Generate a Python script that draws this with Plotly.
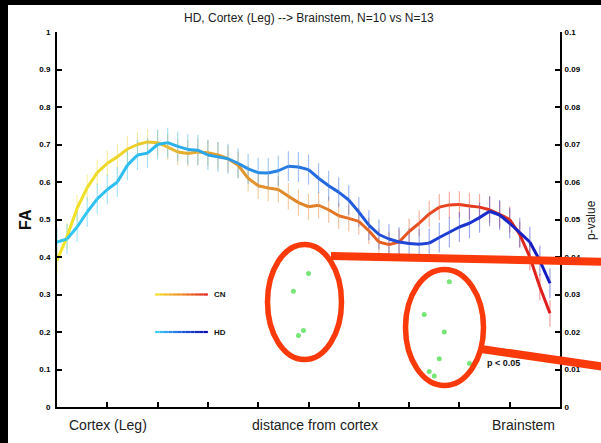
import plotly.graph_objects as go
from plotly.colors import sample_colorscale, hex_to_rgb

# ---------------- data ----------------
title_text = "HD, Cortex (Leg) --> Brainstem, N=10 vs N=13"
group_names = ["CN", "HD"]

position = [0, 2, 4, 6, 8, 10, 12, 14, 16, 18, 20, 22, 24, 26, 28, 30, 32, 34, 36, 38,
            40, 42, 44, 46, 48, 50, 52, 54, 56, 58, 60, 62, 64, 66, 68, 70, 72, 74, 76, 78,
            80, 82, 84, 86, 88, 90, 92, 94, 96, 98]

cn_fa = [0.39, 0.455, 0.53, 0.585, 0.625, 0.65, 0.667, 0.688, 0.70, 0.707,
         0.705, 0.693, 0.68, 0.676, 0.68, 0.678, 0.672, 0.662, 0.645, 0.61,
         0.59, 0.584, 0.58, 0.562, 0.545, 0.534, 0.538, 0.526, 0.51, 0.503,
         0.495, 0.47, 0.44, 0.433, 0.44, 0.468, 0.49, 0.515, 0.533, 0.539,
         0.54, 0.536, 0.533, 0.526, 0.514, 0.50, 0.46, 0.40, 0.32, 0.25]

hd_fa = [0.44, 0.448, 0.48, 0.52, 0.555, 0.58, 0.60, 0.645, 0.672, 0.677,
         0.70, 0.705, 0.695, 0.687, 0.685, 0.672, 0.667, 0.662, 0.65, 0.635,
         0.625, 0.624, 0.63, 0.642, 0.64, 0.633, 0.61, 0.59, 0.573, 0.552,
         0.52, 0.485, 0.46, 0.448, 0.44, 0.436, 0.434, 0.437, 0.452, 0.466,
         0.48, 0.49, 0.505, 0.522, 0.512, 0.49, 0.465, 0.44, 0.39, 0.33]

cn_err = 0.035
hd_err = 0.04

sig_position = [47, 48, 49, 50, 73, 74, 75, 76, 77, 78, 82]
sig_pvalue = [0.0309, 0.0191, 0.0204, 0.0356, 0.0247, 0.0095, 0.0083, 0.0129, 0.0200, 0.0334, 0.0116]

y_ticks = [0, 0.1, 0.2, 0.3, 0.4, 0.5, 0.6, 0.7, 0.8, 0.9, 1]
y_ticklabels = ["0", "0.1", "0.2", "0.3", "0.4", "0.5", "0.6", "0.7", "0.8", "0.9", "1"]
p_ticks = [0, 0.01, 0.02, 0.03, 0.04, 0.05, 0.06, 0.07, 0.08, 0.09, 0.1]
p_ticklabels = ["0", "0.01", "0.02", "0.03", "0.04", "0.05", "0.06", "0.07", "0.08", "0.09", "0.1"]
x_ticks = [10, 20, 30, 40, 50, 60, 70, 80, 90]
x_region_labels = ["Cortex (Leg)", "distance from cortex", "Brainstem"]

# ---------------- styles ----------------
CN_SCALE = [[0, "#f2e526"], [0.15, "#ecd22a"], [0.3, "#e2a232"], [0.5, "#e08428"],
            [0.65, "#e56224"], [0.8, "#e8401e"], [1, "#dc1c1c"]]
HD_SCALE = [[0, "#32c8f2"], [0.2, "#2ab8ee"], [0.35, "#2a9ae6"], [0.5, "#2470e0"],
            [0.7, "#1e48d8"], [1, "#1418c0"]]
CN_LEG_SCALE = [[0, "#f5e62a"], [0.5, "#ee8a26"], [1, "#e01818"]]
HD_LEG_SCALE = [[0, "#40d8f6"], [0.5, "#2060e0"], [1, "#0a0aa8"]]
RED = "#fa3a0a"
FONT = "Liberation Sans, Arial, Helvetica, sans-serif"

W, H = 601, 443
L, R, T, B = 57, 560, 32, 407


def px(xp):
    return (xp - L) / (R - L)


def py(yp):
    return (B - yp) / (B - T)


def to_rgba(c, a):
    if c.startswith("#"):
        r, g, b = hex_to_rgb(c)
    else:
        r, g, b = [int(float(v)) for v in c[c.index("(") + 1:c.index(")")].split(",")[:3]]
    return f"rgba({r},{g},{b},{a})"


fig = go.Figure()
n = len(position)

# hatch (error) lines
for vals, err, scale in [(cn_fa, cn_err, CN_SCALE), (hd_fa, hd_err, HD_SCALE)]:
    cols = sample_colorscale(scale, [i / (n - 1) for i in range(n)])
    for i in range(n):
        fig.add_trace(go.Scatter(
            x=[position[i], position[i]], y=[vals[i] - err, vals[i] + err],
            mode="lines", line=dict(color=to_rgba(cols[i], 0.42), width=1.2),
            hoverinfo="skip", showlegend=False))

# gradient mean lines
for vals, scale in [(cn_fa, CN_SCALE), (hd_fa, HD_SCALE)]:
    cols = sample_colorscale(scale, [(i + 0.5) / (n - 1) for i in range(n - 1)])
    for i in range(n - 1):
        fig.add_trace(go.Scatter(
            x=[position[i], position[i + 1]], y=[vals[i], vals[i + 1]],
            mode="lines", line=dict(color=cols[i], width=3),
            hoverinfo="skip", showlegend=False))

# legend gradient lines
leg_x0, leg_x1 = 19.5, 30
nseg = 12
for yv, scale, name in [(0.3, CN_LEG_SCALE, group_names[0]), (0.2, HD_LEG_SCALE, group_names[1])]:
    cols = sample_colorscale(scale, [(k + 0.5) / nseg for k in range(nseg)])
    for k in range(nseg):
        xa = leg_x0 + (leg_x1 - leg_x0) * k / nseg
        xb = leg_x0 + (leg_x1 - leg_x0) * (k + 1) / nseg
        fig.add_trace(go.Scatter(x=[xa, xb], y=[yv, yv], mode="lines",
                                 line=dict(color=cols[k], width=2.2),
                                 hoverinfo="skip", showlegend=False))
    fig.add_annotation(x=leg_x1 + 0.8, y=yv, text=name, showarrow=False,
                       xanchor="left", yanchor="middle",
                       font=dict(family=FONT, size=8, color="#111", weight="bold"))

# significant points on p-value axis
fig.add_trace(go.Scatter(x=sig_position, y=sig_pvalue, yaxis="y2", mode="markers",
                         marker=dict(color="#5fe05f", size=5, opacity=0.85),
                         hoverinfo="skip", showlegend=False))

axis_common = dict(showgrid=False, zeroline=False, showline=True, linecolor="black",
                   linewidth=2, ticks="inside", ticklen=5, tickwidth=1.5, tickcolor="black")

fig.update_layout(
    width=W, height=H,
    margin=dict(l=L, r=W - R, t=T, b=H - B, pad=0),
    paper_bgcolor="black", plot_bgcolor="white",
    showlegend=False,
    xaxis=dict(range=[0, 100], tickvals=x_ticks, showticklabels=False, **axis_common),
    yaxis=dict(range=[0, 1], tickvals=y_ticks, ticktext=y_ticklabels,
               tickfont=dict(family=FONT, size=8, color="black", weight="bold"),
               ticklabelstandoff=3, **axis_common),
    yaxis2=dict(range=[0, 0.1], tickvals=p_ticks, ticktext=p_ticklabels,
                overlaying="y", side="right", anchor="x",
                tickfont=dict(family=FONT, size=8, color="black", weight="bold"),
                ticklabelstandoff=1, **axis_common),
)

# white page with black border at top-left
fig.add_shape(type="rect", xref="paper", yref="paper", layer="below",
              x0=px(8), x1=px(W + 20), y0=py(H + 20), y1=py(5),
              fillcolor="white", line=dict(width=0))

# texts
fig.add_annotation(xref="paper", yref="paper", x=0.5, y=py(18), text=title_text,
                   showarrow=False, xanchor="center", yanchor="middle",
                   font=dict(family=FONT, size=12, color="#222"))
fig.add_annotation(xref="paper", yref="paper", x=px(25), y=py(220), text="FA",
                   showarrow=False, textangle=-90, xanchor="center", yanchor="middle",
                   font=dict(family=FONT, size=16, color="#111", weight="bold"))
fig.add_annotation(xref="paper", yref="paper", x=px(591), y=py(220), text="p-value",
                   showarrow=False, textangle=-90, xanchor="center", yanchor="middle",
                   font=dict(family=FONT, size=12, color="#222"))
for lbl, cx in zip(x_region_labels, [108, 315, 523]):
    fig.add_annotation(xref="paper", yref="paper", x=px(cx), y=py(425), text=lbl,
                       showarrow=False, xanchor="center", yanchor="middle",
                       font=dict(family=FONT, size=14, color="#222"))
fig.add_annotation(xref="paper", yref="paper", x=px(503), y=py(363), text="p < 0.05",
                   showarrow=False, xanchor="center", yanchor="middle",
                   font=dict(family=FONT, size=9, color="#111", weight="bold"))

# red highlight overlay
for (x0, x1, y0, y1) in [(267.5, 341.5, 244.5, 359.5), (405.5, 483.5, 269.5, 385.5)]:
    fig.add_shape(type="circle", xref="paper", yref="paper", layer="above",
                  x0=px(x0), x1=px(x1), y0=py(y1), y1=py(y0),
                  line=dict(color=RED, width=5.5), fillcolor="rgba(0,0,0,0)")
for (xa, ya, xb, yb) in [(331, 256, 612, 262), (481, 349, 612, 368)]:
    fig.add_shape(type="line", xref="paper", yref="paper", layer="above",
                  x0=px(xa), y0=py(ya), x1=px(xb), y1=py(yb),
                  line=dict(color=RED, width=8))

fig.write_html("out.html", config={"displayModeBar": False},
               post_script="document.body.style.margin='0';document.body.style.overflow='hidden';")
